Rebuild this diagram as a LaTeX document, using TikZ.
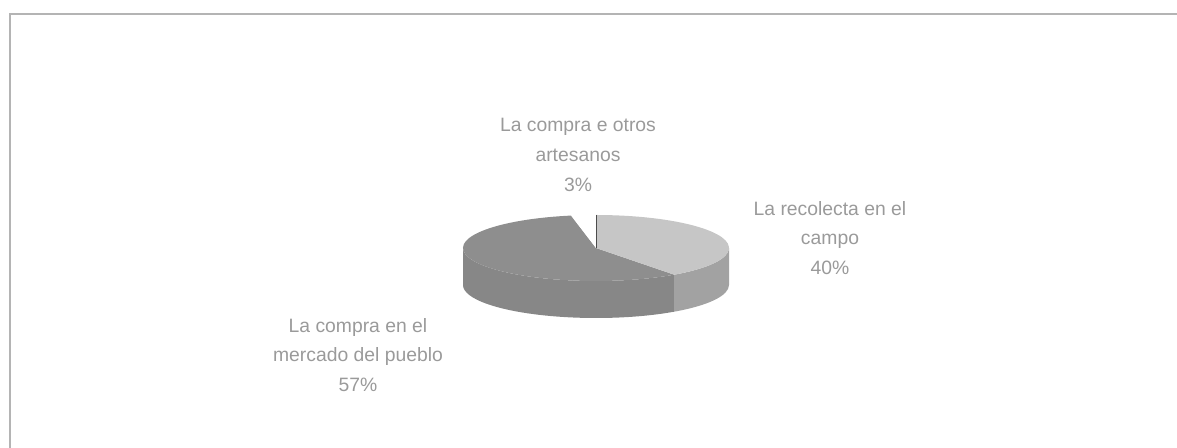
\documentclass[tikz,border=0pt]{standalone}
\usepackage{fontspec}
\setmainfont{Liberation Sans}
\usepackage{xcolor}
\usepackage{tikz}
\usetikzlibrary{calc}
\definecolor{textgray}{HTML}{9A9A9A}
\definecolor{framegray}{HTML}{B4B4B4}
\definecolor{darktop}{HTML}{8E8E8E}
\definecolor{darkside}{HTML}{878787}
\definecolor{lighttop}{HTML}{C6C6C6}
\definecolor{lightside}{HTML}{A2A2A2}
\tikzstyle{slicetext} = [text=textgray, align=center, font=\fontsize{11}{17}\selectfont]
\tikzstyle{ell} = [x radius=2.66, y radius=0.66]

\begin{document}
\begin{tikzpicture}

  \useasboundingbox (0,0) rectangle (23.54,-8.96);

  % Frame
  \draw [framegray, line width=1.2pt] (0.2,-8.96) -- (0.2,-0.28) -- (23.54,-0.28);

  % Pie centres (top face and bottom face)
  \coordinate (c) at (11.92,-4.96);
  \coordinate (cb) at (11.92,-5.70);

  % Sides
  \fill [darkside] ($(c)+(180:2.66 and 0.66)$) arc[ell, start angle=180, end angle=306]
    -- ($(cb)+(306:2.66 and 0.66)$) arc[ell, start angle=306, end angle=180] -- cycle;
  \fill [lightside] ($(c)+(306:2.66 and 0.66)$) arc[ell, start angle=306, end angle=360]
    -- ($(cb)+(360:2.66 and 0.66)$) arc[ell, start angle=360, end angle=306] -- cycle;

  % Top face
  \fill [darktop] (c) -- ($(c)+(100.8:2.66 and 0.66)$) arc[ell, start angle=100.8, end angle=306] -- cycle;
  \fill [lighttop] (c) -- ($(c)+(-54:2.66 and 0.66)$) arc[ell, start angle=-54, end angle=90] -- cycle;
  \fill [white] (c) -- ($(c)+(90:2.66 and 0.66)$) arc[ell, start angle=90, end angle=100.8] -- cycle;
  \draw [black!70, line width=0.5pt] (c) -- ($(c)+(90:2.66 and 0.66)$);

  % Labels
  \node (otros) [slicetext] at (11.56,-3.10) {La compra e otros\\artesanos\\3\%};
  \node (campo) [slicetext] at (16.60,-4.76) {La recolecta en el\\campo\\40\%};
  \node (mercado) [slicetext] at (7.16,-7.10) {La compra en el\\mercado del pueblo\\57\%};

\end{tikzpicture}
\end{document}
